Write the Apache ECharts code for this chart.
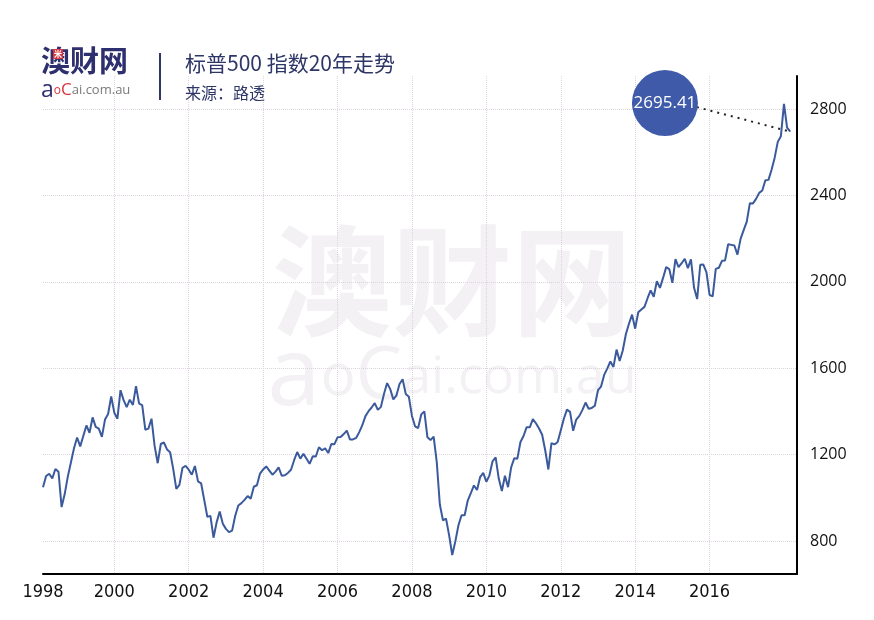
<!DOCTYPE html>
<html>
<head>
<meta charset="utf-8">
<script src="https://cdn.jsdelivr.net/npm/echarts@6/dist/echarts.min.js"></script>
<style>
  html, body { margin: 0; padding: 0; background: #fff; }
  #chart { width: 874px; height: 620px; }
</style>
</head>
<body>
<div id="chart"></div>
<script>
// S&P 500 month-end closes, first value is Feb 1998
const startYear = 1998;
const startMonth = 2;
const closes = [
  1049, 1101, 1111, 1090, 1133, 1120, 957, 1017, 1098, 1163, 1229,
  1279, 1238, 1286, 1335, 1301, 1372, 1328, 1320, 1282, 1362, 1388, 1469,
  1394, 1366, 1498, 1452, 1420, 1454, 1430, 1517, 1436, 1429, 1315, 1320,
  1366, 1240, 1160, 1249, 1256, 1224, 1211, 1134, 1041, 1060, 1139, 1148,
  1130, 1107, 1147, 1076, 1067, 990, 912, 916, 815, 886, 936, 880,
  856, 841, 848, 917, 964, 975, 990, 1008, 996, 1051, 1058, 1112,
  1131, 1145, 1126, 1107, 1121, 1141, 1102, 1104, 1115, 1130, 1174, 1212,
  1181, 1204, 1181, 1157, 1192, 1191, 1234, 1220, 1229, 1207, 1249, 1248,
  1280, 1281, 1295, 1311, 1270, 1270, 1277, 1304, 1336, 1378, 1401, 1418,
  1438, 1407, 1421, 1482, 1531, 1503, 1455, 1474, 1527, 1549, 1481, 1468,
  1379, 1331, 1323, 1386, 1400, 1280, 1267, 1283, 1166, 969, 896, 903,
  826, 735, 798, 873, 919, 919, 987, 1021, 1057, 1036, 1096, 1115,
  1074, 1104, 1169, 1187, 1089, 1031, 1102, 1049, 1141, 1183, 1181, 1258,
  1286, 1327, 1326, 1364, 1345, 1321, 1292, 1219, 1131, 1253, 1247, 1258,
  1312, 1366, 1408, 1398, 1310, 1362, 1379, 1407, 1441, 1412, 1416, 1426,
  1498, 1515, 1569, 1598, 1631, 1606, 1686, 1633, 1682, 1757, 1806, 1848,
  1783, 1859, 1872, 1884, 1924, 1960, 1931, 2003, 1972, 2018, 2068, 2059,
  1995, 2105, 2068, 2086, 2107, 2063, 2104, 1972, 1920, 2079, 2080, 2044,
  1940, 1932, 2060, 2065, 2097, 2099, 2174, 2171, 2168, 2126, 2199, 2239,
  2279, 2364, 2363, 2384, 2412, 2423, 2470, 2472, 2519, 2575, 2648, 2674,
  2824, 2714, 2695.41
];
const yearTicks = [2000, 2002, 2004, 2006, 2008, 2010, 2012, 2014, 2016];
const valueTicks = [800, 1200, 1600, 2000, 2400, 2800];

// callout bubble position (data space) and where its leader line starts
const bubbleAt = [2014.8, 2828];
const leaderFrom = [2015.66, 2809];

const navy = '#2d3667';
const lineColor = '#3b5a9c';
const gridColor = '#ddd3df';

const points = closes.map((v, i) => [startYear + (startMonth - 1 + i) / 12, v]);
const firstX = points[0][0];
const lastPoint = points[points.length - 1];

const chart = echarts.init(document.getElementById('chart'));
window.addEventListener('resize', function () {
  chart.resize();
});

chart.setOption({
  animation: false,
  backgroundColor: '#fff',
  title: {
    text: '标普500 指数20年走势',
    subtext: '来源：路透',
    left: 180,
    top: 48,
    itemGap: 11,
    textStyle: {
      fontFamily: '"Noto Sans CJK SC", sans-serif',
      fontSize: 21,
      fontWeight: 'normal',
      color: navy
    },
    subtextStyle: {
      fontFamily: '"Noto Sans CJK SC", sans-serif',
      fontSize: 16,
      color: navy
    }
  },
  grid: { left: 43, right: 77, top: 76, bottom: 46 },
  xAxis: {
    type: 'value',
    min: firstX,
    max: 2018.35,
    axisLine: { show: true, lineStyle: { color: '#000', width: 2 } },
    axisTick: { show: false, customValues: yearTicks },
    axisLabel: {
      customValues: [firstX, ...yearTicks],
      formatter: function (value) { return String(Math.floor(value)); },
      margin: 9,
      fontFamily: '"Liberation Sans Narrow", "DejaVu Sans Condensed", sans-serif',
      fontSize: 18,
      color: '#111'
    },
    splitLine: { show: true, lineStyle: { color: gridColor, type: 'dotted', width: 1 } }
  },
  yAxis: {
    type: 'value',
    position: 'right',
    min: 647,
    max: 2953,
    axisLine: { show: true, lineStyle: { color: '#000', width: 2 } },
    axisTick: { show: false, customValues: valueTicks },
    axisLabel: {
      customValues: valueTicks,
      formatter: function (value) { return String(value); },
      margin: 13,
      fontFamily: '"Open Sans", "Noto Sans", sans-serif',
      fontSize: 16,
      color: '#111'
    },
    splitLine: { show: true, lineStyle: { color: gridColor, type: 'dotted', width: 1 } }
  },
  graphic: [
    {
      type: 'text', z: -1, silent: true,
      x: 452, y: 281,
      style: {
        text: '澳财网',
        font: 'bold 120px "Noto Sans CJK SC"',
        fill: '#f3f1f4',
        textAlign: 'center',
        textVerticalAlign: 'middle'
      }
    },
    {
      type: 'text', z: -1, silent: true,
      x: 452, y: 426,
      style: {
        text: '{a|a}{o|o}{c|C}{r|ai.com.au}',
        rich: {
          a: { fontSize: 96, fontFamily: 'Open Sans', fill: '#f3f1f4' },
          o: { fontSize: 58, fontFamily: 'Open Sans', fill: '#f3f1f4' },
          c: { fontSize: 74, fontFamily: 'Open Sans', fill: '#f3f1f4' },
          r: { fontSize: 52, fontFamily: 'Open Sans', fill: '#f3f1f4' }
        },
        textAlign: 'center',
        textVerticalAlign: 'bottom'
      }
    },
    {
      type: 'text',
      x: 41, y: 46,
      style: {
        text: '澳财网',
        font: 'bold 29px "Noto Sans CJK SC"',
        fill: '#2e2f6e'
      }
    },
    {
      type: 'rect',
      shape: { x: 53, y: 49, width: 10, height: 10 },
      style: { fill: '#d9343d' }
    },
    {
      type: 'text',
      x: 58, y: 54,
      style: {
        text: '米',
        font: 'bold 8px "Noto Sans CJK SC"',
        fill: '#fff',
        textAlign: 'center',
        textVerticalAlign: 'middle'
      }
    },
    {
      type: 'text',
      x: 41, y: 102,
      style: {
        text: '{a|a}{o|o}{c|C}{r|ai.com.au}',
        rich: {
          a: { fontSize: 23, fontFamily: 'Open Sans', fill: '#2e2f6e' },
          o: { fontSize: 12, fontFamily: 'Open Sans', fill: '#d9343d' },
          c: { fontSize: 17, fontFamily: 'Open Sans', fill: '#d9343d' },
          r: { fontSize: 13, fontFamily: 'Open Sans', fill: '#7a7a7a' }
        },
        textVerticalAlign: 'bottom'
      }
    },
    {
      type: 'line',
      shape: { x1: 160, y1: 53, x2: 160, y2: 100 },
      style: { stroke: navy, lineWidth: 2 }
    }
  ],
  series: [
    {
      type: 'line',
      data: points,
      showSymbol: false,
      symbol: 'none',
      lineStyle: { color: lineColor, width: 2 },
      markLine: {
        silent: true,
        symbol: ['none', 'none'],
        label: { show: false },
        lineStyle: { color: '#222', width: 2, type: [2, 5] },
        data: [[{ coord: leaderFrom }, { coord: lastPoint }]]
      },
      markPoint: {
        silent: true,
        symbol: 'circle',
        symbolSize: 66,
        itemStyle: { color: '#3e5aa8' },
        label: {
          show: true,
          color: '#fff',
          fontFamily: '"Open Sans", sans-serif',
          fontSize: 17,
          formatter: function () { return lastPoint[1].toFixed(2); }
        },
        data: [{ coord: bubbleAt }]
      }
    }
  ]
});
</script>
</body>
</html>
